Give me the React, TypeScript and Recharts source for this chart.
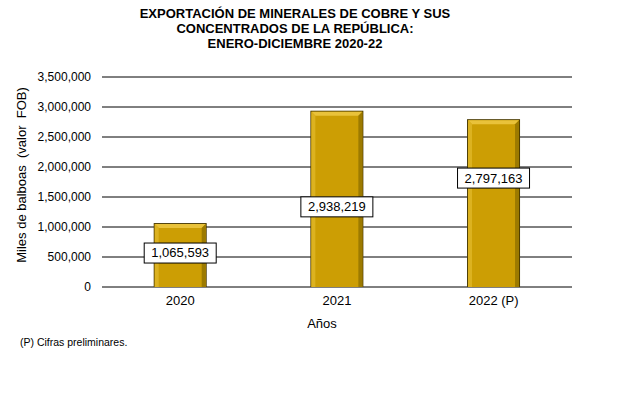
import { Bar, BarChart, CartesianGrid, LabelList, XAxis, YAxis } from "recharts";

const years = ["2020", "2021", "2022 (P)"];
const exports = [1065593, 2938219, 2797163];
const yTicks = [0, 500000, 1000000, 1500000, 2000000, 2500000, 3000000, 3500000];

// the value boxes were placed by hand in the original, so nudge them from bar center
const labelShift = [-2, 8, -25];

const data = years.map((year, i) => ({ year, value: exports[i] }));

const FONT = "'Liberation Sans', Arial, sans-serif";
const fmt = (v: number) => v.toLocaleString("en-US");

function BevelBar(props: any) {
  const { x, y, width, height } = props;
  if (!height || height <= 0) return null;
  const b = 4;
  const x2 = x + width;
  const y2 = y + height;
  return (
    <g>
      <rect x={x} y={y} width={width} height={height} fill="#4a3a00" />
      <rect x={x + 1} y={y + 1} width={width - 2} height={height - 1} fill="#cc9e04" />
      {/* top bevel */}
      <polygon
        points={`${x + 1},${y + 1} ${x2 - 1},${y + 1} ${x2 - 1 - b},${y + 1 + b} ${x + 1 + b},${y + 1 + b}`}
        fill="#e9c23a"
      />
      {/* left bevel */}
      <polygon
        points={`${x + 1},${y + 1} ${x + 1 + b},${y + 1 + b} ${x + 1 + b},${y2} ${x + 1},${y2}`}
        fill="#dcb220"
      />
      {/* right bevel */}
      <polygon
        points={`${x2 - 1},${y + 1} ${x2 - 1 - b},${y + 1 + b} ${x2 - 1 - b},${y2} ${x2 - 1},${y2}`}
        fill="#9c7a00"
      />
    </g>
  );
}

function ValueBox(props: any) {
  const { x, y, width, height, value, index } = props;
  const cx = x + width / 2;
  const cy = y + height / 2 + (labelShift[index] ?? 0);
  const w = 72;
  const h = 20;
  return (
    <g>
      <rect x={cx - w / 2} y={cy - h / 2} width={w} height={h} fill="#fff" stroke="#000" strokeWidth={1} />
      <text
        x={cx}
        y={cy + 1}
        textAnchor="middle"
        dominantBaseline="middle"
        fontFamily={FONT}
        fontSize={13}
        fill="#000"
      >
        {fmt(value)}
      </text>
    </g>
  );
}

export default function App() {
  return (
    <div style={{ position: "absolute", left: 0, top: 0, width: 636, height: 397, background: "#fff", fontFamily: FONT }}>
      <div
        style={{
          position: "absolute",
          left: 95,
          top: 6,
          width: 400,
          textAlign: "center",
          fontWeight: "bold",
          fontSize: 13,
          lineHeight: "15px",
          color: "#000",
        }}
      >
        EXPORTACIÓN DE MINERALES DE COBRE Y SUS
        <br />
        CONCENTRADOS DE LA REPÚBLICA:
        <br />
        ENERO-DICIEMBRE 2020-22
      </div>
      <BarChart
        width={636}
        height={397}
        data={data}
        margin={{ top: 77, right: 64, bottom: 80, left: 0 }}
        barCategoryGap="33%"
      >
        <CartesianGrid vertical={false} stroke="#000" strokeWidth={1} />
        <XAxis
          dataKey="year"
          height={30}
          axisLine={false}
          tickLine={false}
          tickSize={0}
          tickMargin={9}
          tick={{ fontFamily: FONT, fontSize: 13, fill: "#000" }}
        />
        <YAxis
          width={102}
          domain={[0, 3500000]}
          ticks={yTicks}
          tickFormatter={fmt}
          axisLine={false}
          tickLine={false}
          tickSize={0}
          tickMargin={11}
          interval={0}
          tick={{ fontFamily: FONT, fontSize: 12, fill: "#000" }}
        />
        <Bar dataKey="value" shape={<BevelBar />} isAnimationActive={false}>
          <LabelList dataKey="value" content={<ValueBox />} />
        </Bar>
      </BarChart>
      <div
        style={{
          position: "absolute",
          left: 21,
          top: 175,
          transform: "translate(-50%, -50%) rotate(-90deg)",
          whiteSpace: "nowrap",
          fontSize: 13,
          color: "#000",
        }}
      >
        Miles de balboas&nbsp; (valor&nbsp; FOB)
      </div>
      <div style={{ position: "absolute", left: 322, top: 316, transform: "translateX(-50%)", fontSize: 13, color: "#000" }}>
        Años
      </div>
      <div style={{ position: "absolute", left: 20, top: 336, fontSize: 10.5, color: "#000" }}>
        (P) Cifras preliminares.
      </div>
    </div>
  );
}
